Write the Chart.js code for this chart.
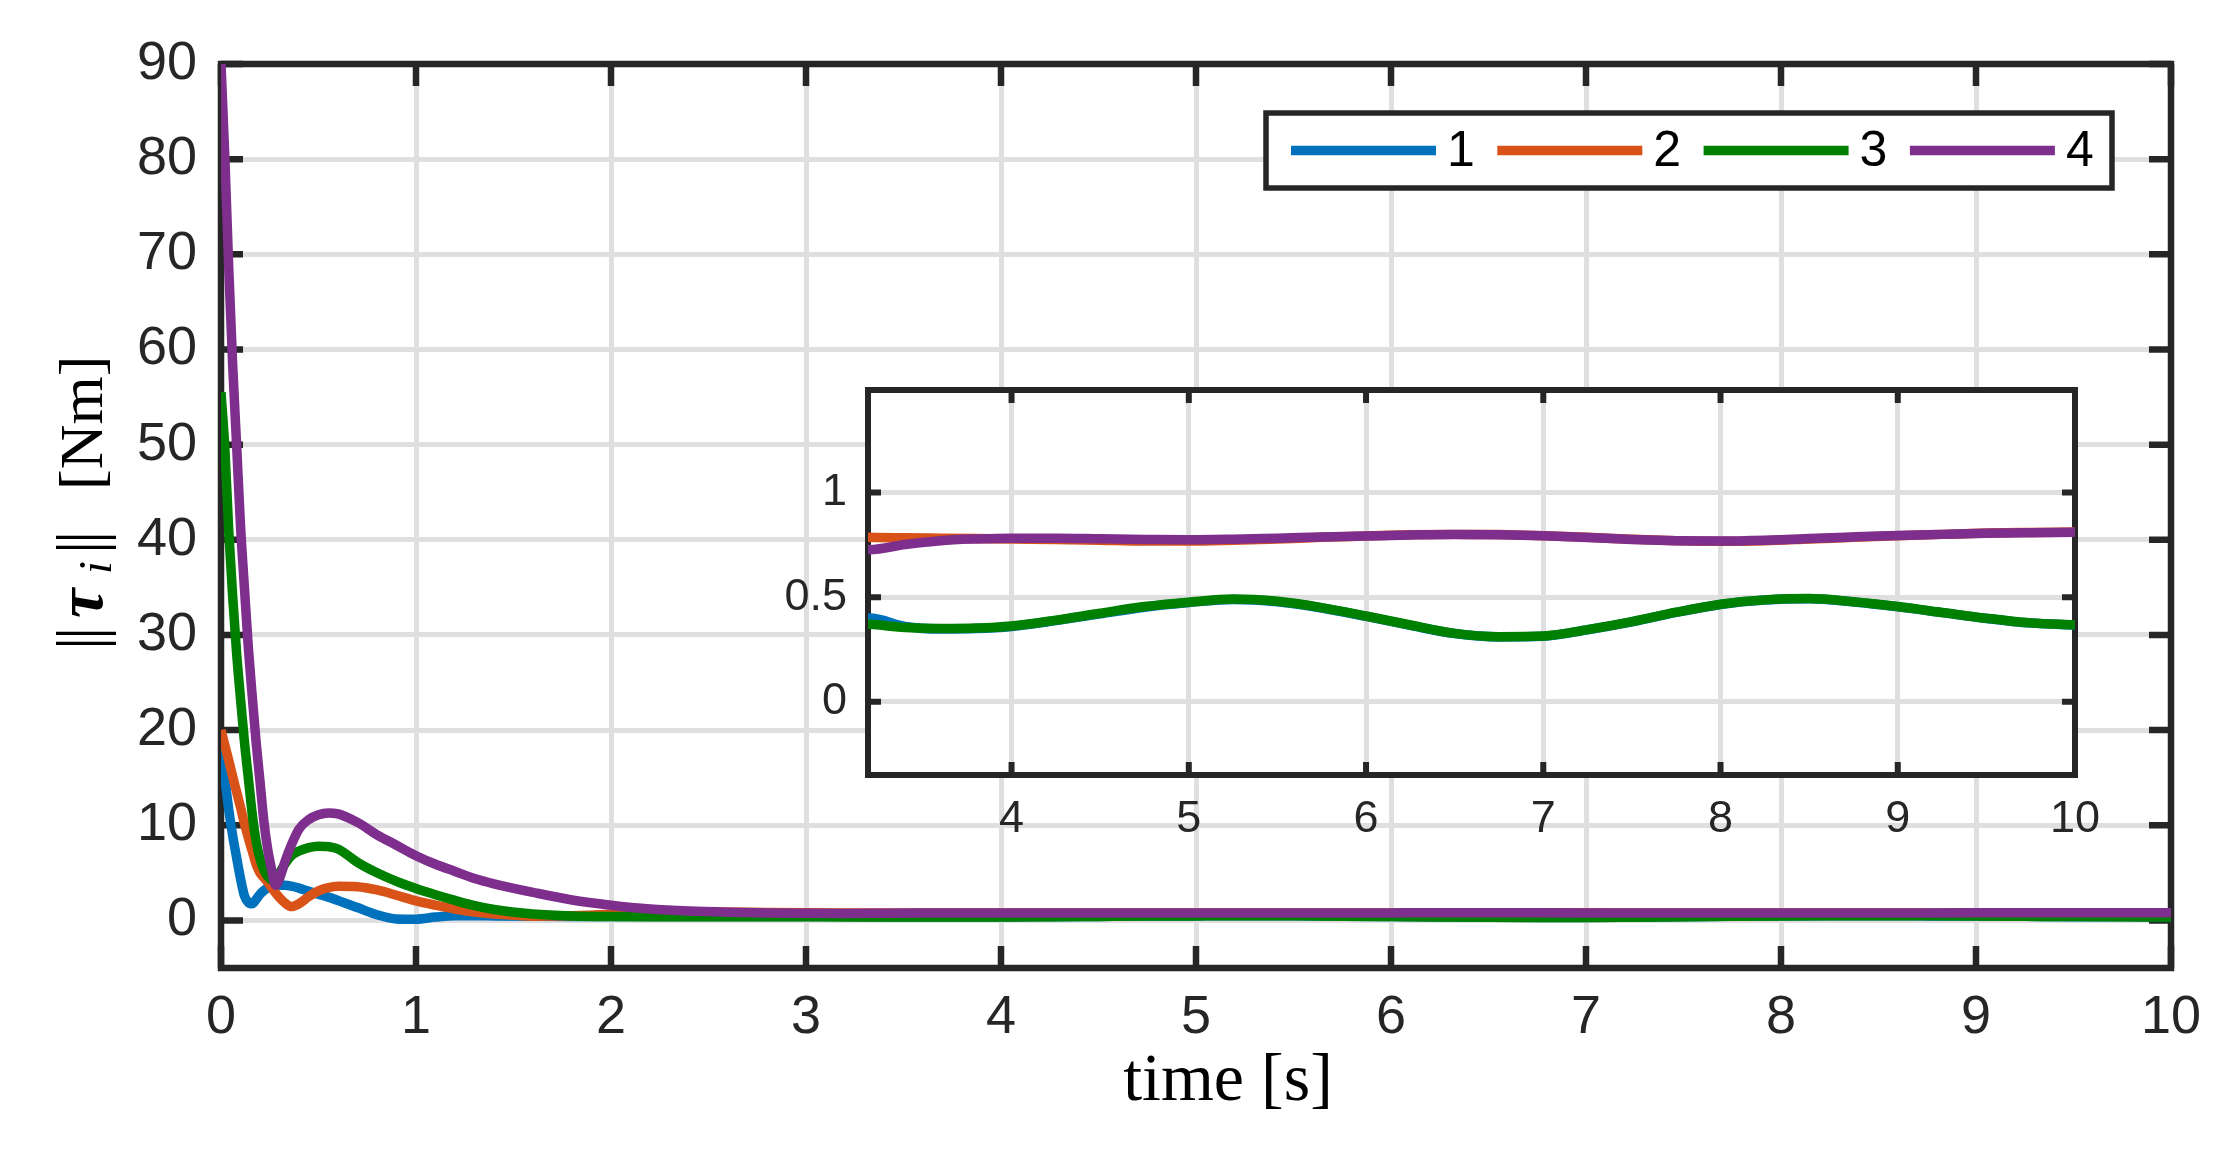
<!DOCTYPE html>
<html>
<head>
<meta charset="utf-8">
<script src="https://cdn.jsdelivr.net/npm/chart.js@4/dist/chart.umd.min.js"></script>
<style>
html,body{margin:0;padding:0;background:#fff;overflow:hidden}
#wrap{position:relative;width:2232px;height:1160px;background:#fff}
#wrap canvas{position:absolute;left:0;top:0}
</style>
</head>
<body>
<div id="wrap">
<canvas id="mainCanvas" width="2232" height="1160"></canvas>
<canvas id="insetCanvas" width="2232" height="1160"></canvas>
</div>
<script>
// ---------------- DATA ----------------
const time = [0, 0.02, 0.04, 0.06, 0.08, 0.1, 0.12, 0.14, 0.16, 0.18, 0.2, 0.22, 0.24, 0.26, 0.28, 0.3,
  0.33, 0.36, 0.4, 0.45, 0.5, 0.55, 0.6, 0.7, 0.8, 0.9, 1.0, 1.1, 1.2, 1.3, 1.4,
  1.6, 1.8, 2.0, 2.2, 2.4, 2.6, 2.8, 3.0, 3.2, 3.4, 3.6, 3.8, 4.0,
  4.25, 4.5, 4.75, 5.0, 5.25, 5.5, 5.75, 6.0, 6.25, 6.5, 6.75, 7.0, 7.25, 7.5, 7.75,
  8.0, 8.25, 8.5, 8.75, 9.0, 9.25, 9.5, 9.75, 10.0];

const tau1 = [18.1, 14.9, 11.6, 8.9, 6.6, 4.4, 2.6, 1.9, 1.75, 2.2, 2.75, 3.15, 3.4, 3.55, 3.65, 3.7,
  3.7, 3.6, 3.4, 3.05, 2.75, 2.45, 2.1, 1.35, 0.6, 0.15, 0.12, 0.35, 0.5, 0.5, 0.47,
  0.43, 0.41, 0.4, 0.4, 0.4, 0.4, 0.4, 0.4, 0.4, 0.36, 0.348, 0.35, 0.36,
  0.388, 0.42, 0.452, 0.474, 0.489, 0.478, 0.448, 0.408, 0.365, 0.326, 0.31, 0.313, 0.344, 0.382, 0.427,
  0.465, 0.486, 0.492, 0.477, 0.454, 0.426, 0.398, 0.376, 0.366];

const tau2 = [20, 18.4, 16.8, 15.1, 13.5, 11.9, 10.2, 8.7, 7.3, 5.9, 5.0, 4.5, 4.0, 3.45, 2.9, 2.4,
  1.8, 1.45, 1.75, 2.5, 3.1, 3.45, 3.6, 3.55, 3.2, 2.65, 2.05, 1.6, 1.2, 0.88, 0.68,
  0.45, 0.5, 0.65, 0.85, 0.9, 0.88, 0.83, 0.8, 0.786, 0.784, 0.782, 0.78, 0.778,
  0.776, 0.772, 0.768, 0.768, 0.772, 0.778, 0.786, 0.792, 0.798, 0.8, 0.799, 0.794, 0.786, 0.777, 0.77,
  0.767, 0.77, 0.778, 0.786, 0.794, 0.8, 0.806, 0.809, 0.811];

const tau3 = [55.5, 49.5, 40.8, 34.0, 28.1, 23.3, 18.8, 15.0, 11.2, 8.3, 6.5, 5.3, 4.6, 4.25, 4.4, 5.0,
  6.0, 6.8, 7.3, 7.65, 7.8, 7.75, 7.5, 6.1, 5.0, 4.1, 3.35, 2.7, 2.1, 1.55, 1.15,
  0.68, 0.47, 0.4, 0.38, 0.38, 0.38, 0.38, 0.375, 0.37, 0.355, 0.35, 0.352, 0.362,
  0.39, 0.423, 0.455, 0.476, 0.491, 0.48, 0.45, 0.41, 0.367, 0.327, 0.311, 0.314, 0.345, 0.383, 0.428,
  0.466, 0.487, 0.493, 0.478, 0.455, 0.427, 0.399, 0.377, 0.367];

const tau4 = [90, 80, 68.4, 58.3, 50, 41.5, 35, 28.7, 23.6, 18.75, 14.6, 10.4, 7.4, 5.3, 3.7, 4.4,
  6.3, 7.9, 9.6, 10.6, 11.1, 11.3, 11.2, 10.3, 9.0, 7.9, 6.8, 5.9, 5.15, 4.4, 3.85,
  2.95, 2.15, 1.6, 1.2, 0.98, 0.86, 0.79, 0.75, 0.727, 0.752, 0.77, 0.778, 0.782,
  0.782, 0.779, 0.776, 0.774, 0.777, 0.782, 0.787, 0.792, 0.797, 0.8, 0.798, 0.793, 0.785, 0.776, 0.77,
  0.768, 0.772, 0.78, 0.788, 0.795, 0.8, 0.805, 0.808, 0.81];

const seriesNames = ['1', '2', '3', '4'];
const seriesColors = ['#0072BD', '#D95319', '#008000', '#7E2F8E'];

const mainXTicks = [0, 1, 2, 3, 4, 5, 6, 7, 8, 9, 10];
const mainXLabels = ['0', '1', '2', '3', '4', '5', '6', '7', '8', '9', '10'];
const mainYTicks = [0, 10, 20, 30, 40, 50, 60, 70, 80, 90];
const mainYLabels = ['0', '10', '20', '30', '40', '50', '60', '70', '80', '90'];
const insetXTicks = [4, 5, 6, 7, 8, 9, 10];
const insetXLabels = ['4', '5', '6', '7', '8', '9', '10'];
const insetYTicks = [0, 0.5, 1];
const insetYLabels = ['0', '0.5', '1'];

const xTitle = 'time [s]';

// ---------------- STYLE ----------------
const AXIS = '#262626';
const GRID = '#dfdfdf';
const SANS = "'Liberation Sans', Arial, Helvetica, sans-serif";
const SERIF = "'Liberation Serif', 'Times New Roman', serif";
const LW = 9.5;

const seriesValues = [tau1, tau2, tau3, tau4];
function makeDatasets() {
  return seriesValues.map((vals, k) => ({
    label: seriesNames[k],
    order: seriesValues.length - 1 - k,   // later series drawn on top
    data: time.map((t, i) => ({ x: t, y: vals[i] })),
    borderColor: seriesColors[k],
    backgroundColor: seriesColors[k],
    borderWidth: LW,
    pointRadius: 0,
    fill: false,
    cubicInterpolationMode: 'monotone',
    borderJoinStyle: 'round',
    borderCapStyle: 'butt'
  }));
}

function framePlugin(o) {
  return {
    id: 'frame_' + o.id,
    beforeDraw(chart) {
      if (!o.whiteBg) return;
      const a = chart.chartArea, ctx = chart.ctx;
      ctx.save();
      ctx.fillStyle = '#fff';
      ctx.fillRect(a.left, a.top, a.right - a.left, a.bottom - a.top);
      ctx.restore();
    },
    beforeDatasetsDraw(chart) {
      const { ctx, chartArea: a } = chart;
      const sx = chart.scales.x, sy = chart.scales.y;
      ctx.save();
      ctx.strokeStyle = AXIS;
      ctx.lineWidth = o.lw;
      ctx.lineCap = 'butt';
      ctx.beginPath();
      o.xTicks.forEach(v => {
        const px = sx.getPixelForValue(v);
        ctx.moveTo(px, a.bottom); ctx.lineTo(px, a.bottom - o.xLen);
        ctx.moveTo(px, a.top); ctx.lineTo(px, a.top + o.xLen);
      });
      o.yTicks.forEach(v => {
        const py = sy.getPixelForValue(v);
        ctx.moveTo(a.left, py); ctx.lineTo(a.left + o.yLen, py);
        ctx.moveTo(a.right, py); ctx.lineTo(a.right - o.yLen, py);
      });
      ctx.stroke();
      ctx.strokeRect(a.left, a.top, a.right - a.left, a.bottom - a.top);
      ctx.restore();
    }
  };
}

const legendPlugin = {
  id: 'boxLegend',
  afterDraw(chart) {
    const ctx = chart.ctx;
    const box = { l: 1266, t: 113, r: 2112, b: 188 };
    ctx.save();
    ctx.fillStyle = '#fff';
    ctx.fillRect(box.l, box.t, box.r - box.l, box.b - box.t);
    ctx.strokeStyle = AXIS;
    ctx.lineWidth = 5.5;
    ctx.strokeRect(box.l, box.t, box.r - box.l, box.b - box.t);
    const cy = (box.t + box.b) / 2;
    ctx.font = '50px ' + SANS;
    ctx.textBaseline = 'middle';
    ctx.textAlign = 'left';
    const items = seriesNames.map((n, k) => ({ label: n, color: seriesColors[k] }));
    items.forEach((it, k) => {
      const x0 = 1291 + k * 206.3;
      ctx.strokeStyle = it.color;
      ctx.lineWidth = LW;
      ctx.beginPath();
      ctx.moveTo(x0, cy); ctx.lineTo(x0 + 145, cy);
      ctx.stroke();
      ctx.fillStyle = '#000';
      ctx.fillText(it.label, x0 + 156, cy + 2);
    });
    ctx.restore();
  }
};

const titlePlugin = {
  id: 'axisTitles',
  afterDraw(chart) {
    const ctx = chart.ctx;
    ctx.save();
    ctx.fillStyle = '#000';
    // x title
    ctx.font = '68px ' + SERIF;
    ctx.textAlign = 'center';
    ctx.textBaseline = 'alphabetic';
    ctx.fillText(xTitle, 1228, 1100);
    // y title: ||tau_i|| [Nm]
    ctx.translate(102, 646);
    ctx.rotate(-Math.PI / 2);
    ctx.textAlign = 'left';
    ctx.font = '66px ' + SERIF;
    ctx.fillText('|', -4, 0);
    ctx.fillText('|', 6, 0);
    ctx.font = 'italic bold 66px ' + SERIF;
    ctx.fillText('\u03C4', 28, 0);
    ctx.font = 'italic 46px ' + SERIF;
    ctx.fillText('i', 72, 9);
    ctx.font = '66px ' + SERIF;
    ctx.fillText('|', 92, 0);
    ctx.fillText('|', 102, 0);
    ctx.font = '62px ' + SERIF;
    ctx.fillText('[Nm]', 156, 0);
    ctx.restore();
  }
};

function fixedTicks(values) {
  return s => { s.ticks = values.map(v => ({ value: v })); };
}

// ---------------- MAIN CHART ----------------
new Chart(document.getElementById('mainCanvas'), {
  type: 'line',
  data: { datasets: makeDatasets() },
  options: {
    responsive: false,
    animation: false,
    devicePixelRatio: 1,
    events: [],
    layout: { padding: { left: 0, top: 64, right: 61, bottom: 0 } },
    plugins: { legend: { display: false }, tooltip: { enabled: false } },
    scales: {
      x: {
        type: 'linear', min: 0, max: 10,
        afterBuildTicks: fixedTicks(mainXTicks),
        afterFit: s => { s.height = 192; },
        grid: { color: GRID, lineWidth: 5, drawTicks: false },
        border: { display: false },
        ticks: {
          color: AXIS, padding: 18, maxRotation: 0, autoSkip: false,
          font: { family: SANS, size: 54 },
          callback: (v, i) => mainXLabels[i]
        }
      },
      y: {
        type: 'linear', min: -5, max: 90,
        afterBuildTicks: fixedTicks(mainYTicks),
        afterFit: s => { s.width = 221; },
        grid: { color: GRID, lineWidth: 5, drawTicks: false },
        border: { display: false },
        ticks: {
          color: AXIS, padding: 24, autoSkip: false,
          font: { family: SANS, size: 54 },
          callback: (v, i) => mainYLabels[i]
        }
      }
    }
  },
  plugins: [framePlugin({ id: 'main', lw: 6.5, xTicks: mainXTicks, yTicks: mainYTicks, xLen: 22, yLen: 22 }), legendPlugin, titlePlugin]
});

// ---------------- INSET CHART ----------------
new Chart(document.getElementById('insetCanvas'), {
  type: 'line',
  data: { datasets: makeDatasets() },
  options: {
    responsive: false,
    animation: false,
    devicePixelRatio: 1,
    events: [],
    layout: { padding: { left: 0, top: 390, right: 157, bottom: 0 } },
    plugins: { legend: { display: false }, tooltip: { enabled: false } },
    scales: {
      x: {
        type: 'linear', min: 3.19, max: 10,
        afterBuildTicks: fixedTicks(insetXTicks),
        afterFit: s => { s.height = 385; },
        grid: { color: GRID, lineWidth: 5, drawTicks: false },
        border: { display: false },
        ticks: {
          color: AXIS, padding: 18, maxRotation: 0, autoSkip: false,
          font: { family: SANS, size: 45 },
          callback: (v, i) => insetXLabels[i]
        }
      },
      y: {
        type: 'linear', min: -0.35, max: 1.49,
        afterBuildTicks: fixedTicks(insetYTicks),
        afterFit: s => { s.width = 868; },
        grid: { color: GRID, lineWidth: 5, drawTicks: false },
        border: { display: false },
        ticks: {
          color: AXIS, padding: 21, autoSkip: false,
          font: { family: SANS, size: 45 },
          callback: (v, i) => insetYLabels[i]
        }
      }
    }
  },
  plugins: [framePlugin({ id: 'inset', lw: 6, xTicks: insetXTicks, yTicks: insetYTicks, xLen: 13, yLen: 13, whiteBg: true })]
});
</script>
</body>
</html>
